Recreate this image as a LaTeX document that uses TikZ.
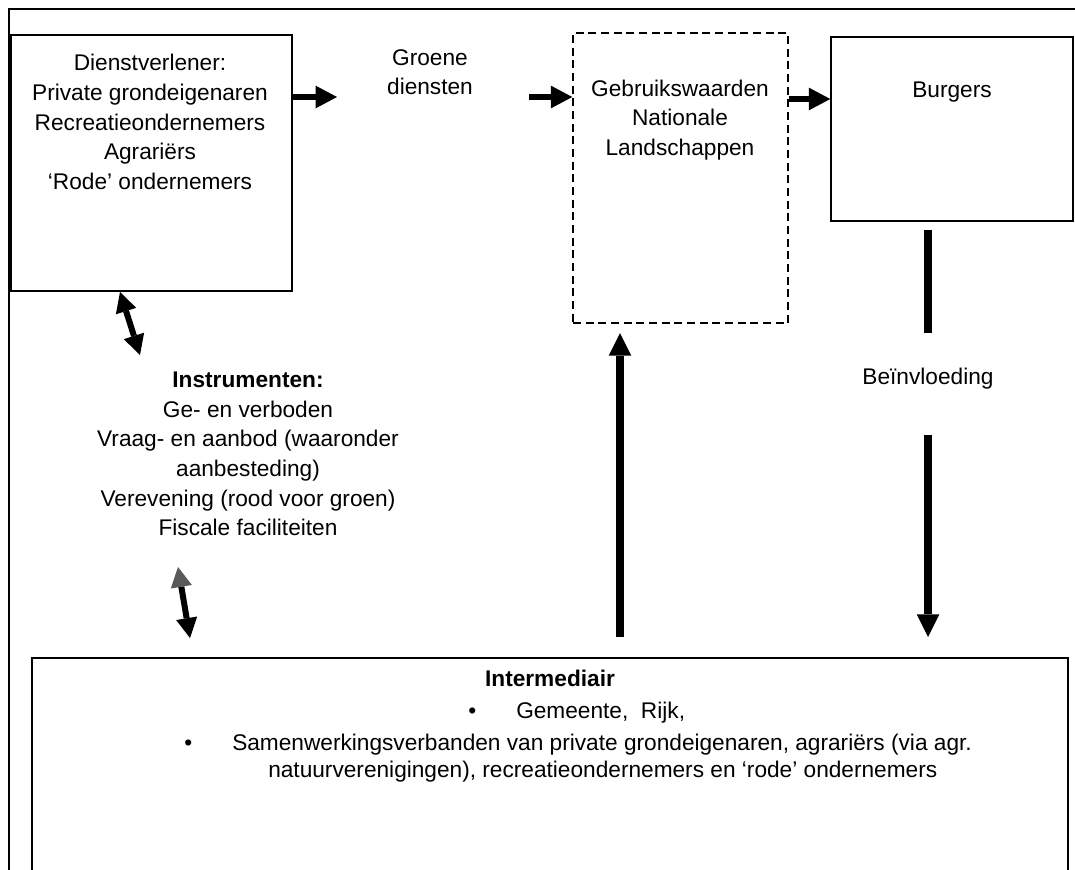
\documentclass[tikz,border=0pt]{standalone}
\usepackage{fontspec}
\setmainfont{Liberation Sans}
\usetikzlibrary{positioning,calc,fit,arrows.meta}
\tikzset{
  frame/.style={draw,line width=1.1pt},
  box/.style={draw,line width=1.1pt,inner sep=0pt},
  dashbox/.style={draw,line width=1.1pt,dash pattern=on 6pt off 3.5pt,inner sep=0pt},
  interbox/.style={draw,line width=1.5pt,inner sep=0pt},
  txt/.style={align=center,font=\fontsize{17}{22.2}\selectfont,inner sep=0pt},
  flow/.style={line width=5pt,-{Triangle[length=16pt,width=17pt,line width=0pt]}},
  vflow/.style={line width=6pt,-{Triangle[length=17pt,width=17pt,line width=0pt]}},
  bar/.style={line width=6pt},
  twoway/.style={line width=4.5pt,{Triangle[length=15pt,width=16pt,line width=0pt]}-{Triangle[length=15pt,width=16pt,line width=0pt]}},
}
\begin{document}
\begin{tikzpicture}[x=0.75pt,y=-0.75pt]
    \useasboundingbox (0,0) rectangle (1075,870);
    \clip (0,0) rectangle (1075,870);
    % frame round everything, runs off the page
    \draw[frame] (9,9) rectangle (1100,900);
    % boxes
    \coordinate (d1) at (11,35);  \coordinate (d2) at (292,291);
    \node[box,fit=(d1)(d2)] (dienst) {};
    \coordinate (g1) at (573,33); \coordinate (g2) at (788,323);
    \node[dashbox,fit=(g1)(g2)] (gebruik) {};
    \coordinate (b1) at (831,37); \coordinate (b2) at (1073,221);
    \node[box,fit=(b1)(b2)] (burgers) {};
    \coordinate (i1) at (32,658); \coordinate (i2) at (1068,900);
    \node[interbox,fit=(i1)(i2)] (inter) {};
    % texts
    \node[txt] (dtext) at (150,122) {Dienstverlener:\\Private grondeigenaren\\Recreatieondernemers\\Agrariërs\\‘Rode’ ondernemers};
    \node[txt] (groene) at (430,72) {Groene\\diensten};
    \node[txt] (gtext) at (680,120) {Gebruikswaarden\\Nationale\\Landschappen};
    \node[txt] (btext) at (952,92) {Burgers};
    \node[txt] (beinv) at (928,379) {Beïnvloeding};
    \node[txt] (instr) at (248,454) {\textbf{Instrumenten:}\\Ge- en verboden\\Vraag- en aanbod (waaronder\\aanbesteding)\\Verevening (rood voor groen)\\Fiscale faciliteiten};
    \node[txt] (ititle) at (550,678) {\textbf{Intermediair}};
    \node[txt,anchor=west] (item1) at (468,713) {\makebox[36pt][l]{\textbullet}Gemeente,\ \ Rijk,};
    \node[txt,anchor=west] (item2) at (184,745) {\makebox[36pt][l]{\textbullet}Samenwerkingsverbanden van private grondeigenaren, agrariërs (via agr.};
    \node[txt,anchor=west] (item3) at (268,772) {natuurverenigingen), recreatieondernemers en ‘rode’ ondernemers};
    % flows along the top
    \coordinate (a1) at (337,97);
    \coordinate (a2) at (529,97);
    \coordinate (a3) at (800,99);
    \draw[flow] (dienst.east |- a1) -- (a1);
    \draw[flow] (a2) -- (gebruik.west |- a2);
    \draw[flow] (gebruik.east |- a3) -- (burgers.west |- a3);
    % intermediair up to the use values
    \coordinate (u) at (620,500);
    \draw[vflow,shorten <=15pt,shorten >=7pt] (inter.north -| u) -- (gebruik.south -| u);
    % influence of the citizens
    \coordinate (v1) at (928,333);
    \coordinate (v2) at (928,435);
    \draw[bar,shorten <=6pt] (burgers.south -| v1) -- (v1);
    \draw[vflow,shorten >=15pt] (v2) -- (inter.north -| v2);
    % instruments both ways
    \coordinate (t0) at (120,292); \coordinate (t1) at (140,355);
    \draw[twoway] (t0) -- (t1);
    \coordinate (t2) at (178,567); \coordinate (t3) at (190,638);
    \draw[line width=4.5pt,{Triangle[length=15pt,width=16pt,line width=0pt,color=black!65]}-{Triangle[length=15pt,width=16pt,line width=0pt]}] (t2) -- (t3);
\end{tikzpicture}
\end{document}
